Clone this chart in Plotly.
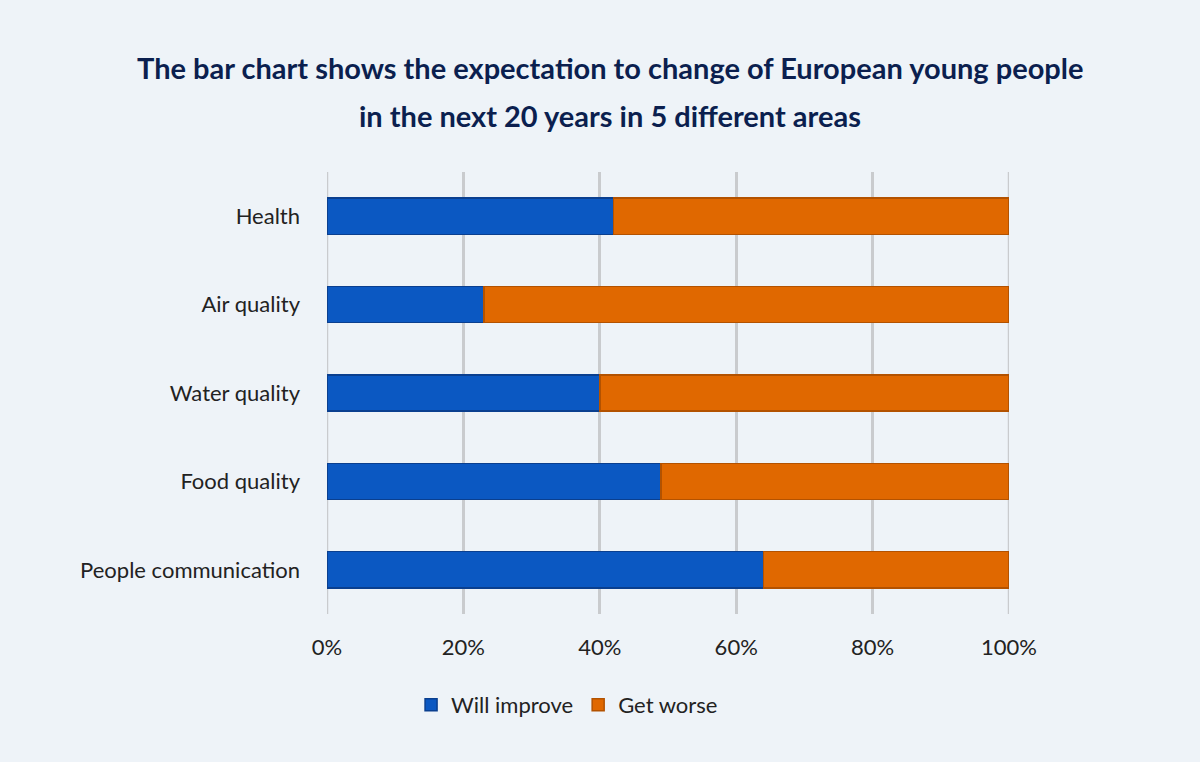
import plotly.graph_objects as go

categories = ["Health", "Air quality", "Water quality", "Food quality", "People communication"]
will_improve = [42, 23, 40, 49, 64]
get_worse = [58, 77, 60, 51, 36]
x_ticks = [0, 20, 40, 60, 80, 100]
x_tick_labels = ["0%", "20%", "40%", "60%", "80%", "100%"]
title_lines = [
    "The bar chart shows the expectation to change of European young people",
    "in the next 20 years in 5 different areas",
]

fig = go.Figure()
fig.add_trace(go.Bar(
    y=categories, x=will_improve, orientation="h", name="Will improve",
    marker=dict(color="#0b58c2", line=dict(color="#0a3f8f", width=1.5)),
))
fig.add_trace(go.Bar(
    y=categories, x=get_worse, orientation="h", name="Get worse",
    marker=dict(color="#e06800", line=dict(color="#b35200", width=1.5)),
))

# edge gridlines (0% and 100%), which plotly omits at the range boundaries
for xv in (x_ticks[0], x_ticks[-1]):
    fig.add_shape(
        type="line", xref="x", yref="paper", x0=xv, x1=xv, y0=0, y1=1,
        line=dict(color="#c9cbce", width=2.5), layer="below",
    )

title_font = dict(family="Lato, sans-serif", size=29, color="#0b1f4f", weight="bold")
for txt, yy in zip(title_lines, [1.2353, 1.1267]):
    fig.add_annotation(
        text=txt, xref="paper", yref="paper", x=0.415, y=yy,
        xanchor="center", yanchor="middle", showarrow=False, font=title_font,
    )

fig.update_layout(
    barmode="stack",
    bargap=0.59,
    width=1200, height=762,
    paper_bgcolor="#eef3f8",
    plot_bgcolor="#eef3f8",
    margin=dict(l=327, r=191, t=172, b=148),
    font=dict(family="Lato, sans-serif", color="#222222", size=22),
    xaxis=dict(
        range=[0, 100], tickvals=x_ticks, ticktext=x_tick_labels,
        showgrid=True, gridcolor="#c9cbce", gridwidth=2.5,
        zeroline=False, showline=False, ticks="",
        tickfont=dict(size=22, color="#222222"), ticklabelstandoff=18,
    ),
    yaxis=dict(
        categoryorder="array", categoryarray=categories, autorange="reversed",
        showgrid=False, zeroline=False, ticks="", ticklabelstandoff=26,
        tickfont=dict(size=22, color="#222222"),
    ),
    legend=dict(
        orientation="h", x=0.352, xanchor="center", y=-0.206, yanchor="middle",
        font=dict(size=22, color="#222222"), bgcolor="rgba(0,0,0,0)",
        itemwidth=30, traceorder="normal",
    ),
)

fig.write_html(
    "out.html",
    config={"displayModeBar": False},
    post_script="document.body.style.margin='0';document.body.style.padding='0';",
)
